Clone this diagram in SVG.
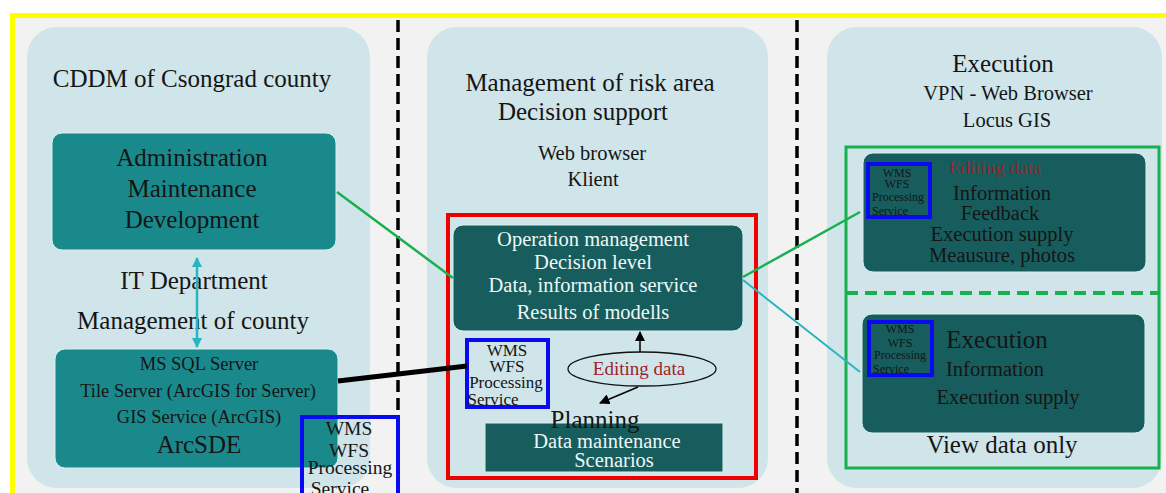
<svg xmlns="http://www.w3.org/2000/svg" width="1166" height="493" viewBox="0 0 1166 493">
  <style>
    text { font-family: "Liberation Serif", "Times New Roman", serif; text-anchor: middle; fill: #151515; }
    .panel { fill: #cfe5ea; }
    .teal { fill: #1a898c; stroke: #d8f0f0; stroke-width: 1; }
    .dark { fill: #175d5e; stroke: #d8f0f0; stroke-width: 1; }
    .svc { fill: none; stroke: #0a0af0; stroke-width: 4; }
    .h1 { font-size: 25px; }
    .h2 { font-size: 20.5px; }
    .h3 { font-size: 18.5px; }
    .lt { fill: #eef7f7; }
    .red { fill: #a01e28; }
    .divider { stroke: #000; stroke-width: 3.5; stroke-dasharray: 12 6; fill: none; }
  </style>
  <defs>
    <marker id="ah" viewBox="0 0 10 10" refX="9" refY="5" markerWidth="7" markerHeight="7" orient="auto-start-reverse">
      <path d="M0,0 L10,5 L0,10 z" fill="#000"/>
    </marker>
    <marker id="ahc" viewBox="0 0 10 10" refX="9" refY="5" markerWidth="4" markerHeight="4" orient="auto-start-reverse">
      <path d="M0,0 L10,5 L0,10 z" fill="#2ab4c0"/>
    </marker>
  </defs>

  <!-- page background and frame -->
  <rect x="0" y="0" width="1166" height="493" fill="#ffffff"/>
  <rect x="12" y="16" width="1154" height="477" fill="#f2f2f2"/>
  <rect x="10" y="13" width="1156" height="5" fill="#ffff00"/>
  <rect x="10" y="13" width="5" height="480" fill="#ffff00"/>

  <!-- column panels -->
  <rect class="panel" x="27" y="27" width="343" height="461" rx="30"/>
  <rect class="panel" x="427" y="27" width="341" height="461" rx="30"/>
  <rect class="panel" x="827" y="27" width="335" height="461" rx="30"/>

  <!-- column dividers -->
  <line class="divider" x1="398" y1="20" x2="398" y2="493"/>
  <line class="divider" x1="797" y1="20" x2="797" y2="493"/>

  <!-- left column -->
  <g id="county">
    <text class="h1" x="192" y="87">CDDM of Csongrad county</text>
    <text class="h1" x="194" y="289">IT Department</text>
    <text class="h1" x="193" y="329">Management of county</text>
  </g>
  <g id="admin">
    <rect class="teal" x="52" y="133" width="284" height="117" rx="10"/>
    <text class="h1" x="192" y="166">Administration</text>
    <text class="h1" x="192" y="197">Maintenance</text>
    <text class="h1" x="192" y="228">Development</text>
  </g>
  <g id="database">
    <rect class="teal" x="55" y="349" width="283" height="119" rx="10"/>
    <text class="h3" x="199" y="370">MS SQL Server</text>
    <text class="h3" x="198" y="397">Tile Server (ArcGIS for Server)</text>
    <text class="h3" x="199" y="423">GIS Service (ArcGIS)</text>
    <text class="h1" x="199" y="453">ArcSDE</text>
  </g>

  <!-- middle column -->
  <g id="risk">
    <text class="h1" x="590" y="91">Management of risk area</text>
    <text class="h1" x="583" y="120">Decision support</text>
    <text class="h2" x="592" y="160">Web browser</text>
    <text class="h2" x="593" y="186">Klient</text>
    <rect x="448" y="215" width="308" height="263" fill="none" stroke="#ee0000" stroke-width="4"/>
  </g>
  <g id="operation">
    <rect class="dark" x="453" y="225" width="290" height="106" rx="10"/>
    <text class="lt h2" x="593" y="246">Operation management</text>
    <text class="lt h2" x="593" y="269">Decision level</text>
    <text class="lt h2" x="593" y="292">Data, information service</text>
    <text class="lt h2" x="593" y="319">Results of modells</text>
  </g>
  <g id="editing">
    <ellipse cx="642" cy="369" rx="74" ry="17" fill="none" stroke="#111" stroke-width="1.3"/>
    <text class="red" x="639" y="375" font-size="19">Editing data</text>
  </g>
  <g id="planning">
    <rect class="dark" x="485" y="423" width="238" height="49" stroke="none"/>
    <text class="h1" x="595" y="428">Planning</text>
    <text class="lt h2" x="607" y="448">Data maintenance</text>
    <text class="lt h2" x="614" y="467">Scenarios</text>
  </g>
  <g id="service-mid">
    <rect class="svc" x="467" y="340" width="81" height="67"/>
    <text x="507" y="356" font-size="17">WMS</text>
    <text x="507" y="372" font-size="17">WFS</text>
    <text x="506" y="388" font-size="17">Processing</text>
    <text x="493" y="405" font-size="17">Service</text>
  </g>
  <g id="service-left">
    <rect class="svc" x="302" y="417" width="96" height="80"/>
    <text x="349" y="435" font-size="19.5">WMS</text>
    <text x="349" y="457" font-size="19.5">WFS</text>
    <text x="350" y="474" font-size="19.5">Processing</text>
    <text x="340" y="495" font-size="19.5">Service</text>
  </g>

  <!-- right column -->
  <g id="execution">
    <text class="h1" x="1003" y="72">Execution</text>
    <text class="h2" x="1008" y="100">VPN - Web Browser</text>
    <text class="h2" x="1007" y="127">Locus GIS</text>
    <rect x="846" y="147" width="313" height="321" fill="none" stroke="#19b050" stroke-width="3"/>
    <line x1="846" y1="293" x2="1159" y2="293" stroke="#19b050" stroke-width="4" stroke-dasharray="12 7"/>
    <text class="h1" x="1002" y="453">View data only</text>
  </g>
  <g id="field-edit">
    <rect class="dark" x="863" y="153" width="283" height="119" rx="10"/>
    <text class="red" x="995" y="174" font-size="19">Editing data</text>
    <text class="h2" x="1002" y="200">Information</text>
    <text class="h2" x="1000" y="220">Feedback</text>
    <text class="h2" x="1002" y="241">Execution supply</text>
    <text class="h2" x="1002" y="262">Meausure, photos</text>
    <rect class="svc" x="868" y="164" width="62" height="53" stroke-width="3.5"/>
    <text x="897" y="177" font-size="12">WMS</text>
    <text x="897" y="188" font-size="12">WFS</text>
    <text x="898" y="201" font-size="12">Processing</text>
    <text x="890" y="215" font-size="12">Service</text>
  </g>
  <g id="field-view">
    <rect class="dark" x="862" y="314" width="283" height="119" rx="10"/>
    <text x="997" y="348" font-size="25">Execution</text>
    <text class="h2" x="995" y="376">Information</text>
    <text class="h2" x="1008" y="404">Execution supply</text>
    <rect class="svc" x="869" y="322" width="63" height="53" stroke-width="3.5"/>
    <text x="900" y="333" font-size="12">WMS</text>
    <text x="900" y="347" font-size="12">WFS</text>
    <text x="900" y="359" font-size="12">Processing</text>
    <text x="891" y="373" font-size="12">Service</text>
  </g>

  <!-- connectors -->
  <g id="connectors" fill="none">
    <line x1="197" y1="258" x2="197" y2="347" stroke="#2ab4c0" stroke-width="2.5" marker-start="url(#ahc)" marker-end="url(#ahc)"/>
    <line x1="337" y1="192" x2="453" y2="278" stroke="#19b050" stroke-width="2.5"/>
    <line x1="338" y1="381" x2="467" y2="366" stroke="#000" stroke-width="5"/>
    <line x1="743" y1="277" x2="860" y2="212" stroke="#19b050" stroke-width="2.5"/>
    <line x1="743" y1="280" x2="860" y2="372" stroke="#2ab4c0" stroke-width="2"/>
    <line x1="640" y1="352" x2="640" y2="332" stroke="#000" stroke-width="1.5" marker-end="url(#ah)"/>
    <line x1="638" y1="387" x2="600" y2="403" stroke="#000" stroke-width="1.5" marker-end="url(#ah)"/>
  </g>
</svg>
